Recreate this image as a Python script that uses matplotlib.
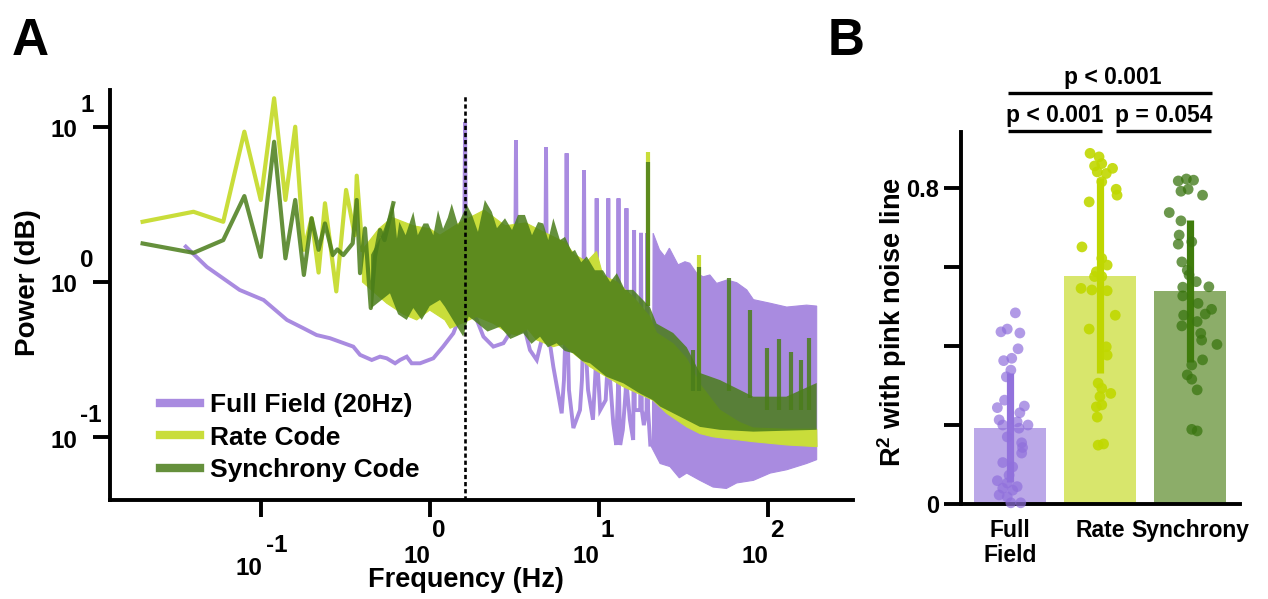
import numpy as np
import matplotlib
matplotlib.use("Agg")
import matplotlib.pyplot as plt
from matplotlib.lines import Line2D

plt.rcParams['font.family'] = ['Liberation Sans', 'DejaVu Sans']
plt.rcParams['font.weight'] = 'bold'
plt.rcParams['mathtext.fontset'] = 'custom'
plt.rcParams['mathtext.rm'] = 'Liberation Sans:bold'
plt.rcParams['mathtext.bf'] = 'Liberation Sans:bold'

# ---------------- Panel A data (frequency in Hz, power) ----------------
series_labels = ['Full Field (20Hz)', 'Rate Code', 'Synchrony Code']

# Full field: line part (low frequency + harmonic spikes)
ff_freq = [0.036, 0.048, 0.075, 0.104, 0.143, 0.179, 0.214, 0.257, 0.353, 0.387,
           0.454, 0.508, 0.557, 0.624, 0.667, 0.731, 0.782, 0.877, 1.05, 1.20,
           1.38, 1.48, 1.55, 1.60, 1.62, 1.64, 1.73, 1.90, 2.08, 2.38,
           2.73, 3.06, 3.15, 3.21, 3.24, 3.27, 3.33, 3.58, 3.92, 4.30,
           4.70, 4.83, 4.88, 4.93, 5.01, 5.39, 6.04, 6.23, 6.40, 6.46,
           6.52, 6.67, 7.08, 7.75, 7.96, 8.11, 8.19, 8.27, 8.65, 9.25,
           9.63, 9.73, 9.83, 10.2, 11.0, 11.3, 11.4, 11.5, 12.2, 12.7,
           13.0, 13.1, 13.2, 13.4, 13.9, 14.45, 14.6, 14.75, 15.3, 16.0,
           16.05, 16.2, 16.35, 17.1, 17.6, 17.8, 18.0, 18.5, 19.2, 19.4,
           19.6, 20.2]
ff_power = [1.69, 1.25, 0.889, 0.766, 0.570, 0.504, 0.456, 0.435, 0.384, 0.340,
            0.315, 0.331, 0.323, 0.300, 0.315, 0.331, 0.300, 0.300, 0.323, 0.384,
            0.468, 0.570, 1.03, 2.0, 10.7, 1.5, 0.693, 0.570, 0.445, 0.384,
            0.404, 0.491, 0.766, 1.5, 8.19, 1.2, 0.888, 0.542, 0.365, 0.315,
            0.468, 1.0, 7.35, 1.0, 0.491, 0.285, 0.143, 0.234, 0.6, 6.73,
            0.6, 0.202, 0.115, 0.150, 0.234, 0.5, 5.25, 0.5, 0.202, 0.130,
            0.3, 3.45, 0.3, 0.150, 0.174, 0.3, 3.45, 0.3, 0.123, 0.0895,
            0.2, 3.45, 0.2, 0.0895, 0.112, 0.2, 2.98, 0.2, 0.130, 0.0964,
            0.15, 2.16, 0.15, 0.150, 0.15, 2.07, 0.15, 0.12, 0.15, 2.06,
            0.15, 0.09]
# Full field: dense high-frequency band (upper / lower edges)
ff_band_up_freq = [20.2, 20.8, 21.0, 22.9, 24.6, 26.2, 29.5, 32.4, 34.6, 38.0, 41.5,
                   45.5, 49.9, 57.4, 65.6, 75.2, 82.4, 103.5, 129.6, 170, 195]
ff_band_up_power = [0.09, 0.09, 2.06, 1.61, 1.46, 1.65, 1.29, 1.35, 1.32, 1.14, 1.08,
                    1.11, 0.98, 1.03, 0.99, 0.89, 0.77, 0.73, 0.69, 0.71, 0.70]
ff_band_lo_freq = [20.2, 23.1, 26.4, 30.0, 33.2, 39.7, 47.5, 57.0, 65.6, 82.4,
                   103.5, 129.6, 170, 195]
ff_band_lo_power = [0.09, 0.068, 0.065, 0.055, 0.059, 0.053, 0.048, 0.047, 0.051, 0.053,
                    0.059, 0.062, 0.068, 0.072]

# Rate code
rate_freq = [0.02, 0.04, 0.06, 0.08, 0.10, 0.12, 0.14, 0.16, 0.18, 0.20, 0.22,
             0.24, 0.28, 0.32, 0.36, 0.37, 0.40]
rate_power = [2.44, 2.83, 2.44, 9.27, 3.37, 15.2, 3.37, 9.97, 1.61, 2.57, 1.15,
              3.21, 0.87, 3.91, 2.0, 4.83, 1.61]
rate_band_up_freq = [0.40, 0.5, 0.6, 0.8, 1.0, 1.15, 1.5, 2.1, 2.8, 3.7, 4.7, 6.3,
                     7.2, 8.5, 9.7, 10.6, 12.8, 16, 20, 22, 27.6, 33.2, 39.7, 52,
                     68, 82, 129, 195]
rate_band_up_power = [1.61, 2.2, 2.6, 2.3, 2.2, 2.0, 2.4, 2.9, 2.3, 2.4, 2.1, 1.8,
                      1.5, 1.35, 1.57, 1.1, 1.0, 0.8, 0.6, 0.47, 0.40, 0.32, 0.22, 0.15,
                      0.125, 0.115, 0.113, 0.113]
rate_band_lo_freq = [0.40, 0.557, 0.70, 0.838, 1.0, 1.23, 1.32, 1.9, 2.38, 2.9, 3.27,
                     3.8, 4.30, 5.39, 6.2, 7.08, 8.89, 11.1, 14.0, 20.9, 25.3, 33.2,
                     39.7, 47.5, 81.9, 130, 196]
rate_band_lo_power = [1.0, 0.730, 0.62, 0.570, 0.66, 0.570, 0.504, 0.60, 0.542, 0.47,
                      0.456, 0.50, 0.424, 0.384, 0.40, 0.348, 0.285, 0.246, 0.212, 0.174,
                      0.143, 0.117, 0.106, 0.101, 0.094, 0.0895, 0.0873]
rate_spike_freq = [19.5, 39.4]
rate_spike_top = [6.89, 1.49]
rate_spike_base = [0.7, 0.2]

# Synchrony code
sync_freq = [0.02, 0.04, 0.06, 0.08, 0.10, 0.12, 0.14, 0.16, 0.18, 0.20, 0.22, 0.24,
             0.267, 0.284, 0.308, 0.35, 0.37, 0.387, 0.414, 0.448, 0.474, 0.508,
             0.54, 0.609]
sync_power = [1.77, 1.54, 1.86, 3.57, 1.45, 7.98, 1.42, 3.37, 1.11, 2.57, 1.61, 2.38,
              1.49, 1.62, 1.49, 1.77, 3.37, 1.14, 2.21, 0.68, 1.45, 2.16,
              1.86, 3.21]
sync_band_up_freq = [0.45, 0.52, 0.609, 0.64, 0.661, 0.72, 0.80, 0.85, 0.92, 0.98,
                     1.05, 1.12, 1.20, 1.28, 1.35, 1.47, 1.66, 1.78, 1.93, 2.12,
                     2.33, 2.50, 2.79, 3.07, 3.33, 3.66, 4.03, 4.38, 4.70, 5.03,
                     5.39, 5.90, 6.32, 6.95, 7.24, 7.88, 8.49, 9.50, 10.6, 11.7,
                     12.8, 14.3, 16.0, 20.1, 22.0, 27.6, 33.2, 39.7, 52.2, 68.6,
                     82.2, 129, 195]
sync_band_up_power = [1.5, 2.0, 3.21, 1.9, 2.44, 2.0, 2.83, 2.0, 2.38, 2.38,
                      2.0, 2.9, 2.2, 2.6, 3.19, 2.33, 3.13, 2.7, 2.1, 3.37,
                      2.83, 2.22, 2.57, 2.16, 2.70, 2.70, 2.0, 2.43, 2.38, 1.86,
                      2.57, 1.86, 1.95, 1.56, 1.61, 1.34, 1.46, 1.19, 1.19, 1.0,
                      1.14, 0.89, 0.89, 0.69, 0.54, 0.47, 0.38, 0.26, 0.234, 0.202,
                      0.183, 0.183, 0.224]
sync_band_lo_freq = [0.45, 0.582, 0.65, 0.731, 0.80, 0.897, 1.0, 1.15, 1.23, 1.40,
                     1.58, 1.70, 1.81, 2.2, 2.61, 3.0, 3.58, 4.0, 4.50, 5.0,
                     5.64, 6.3, 7.08, 8.0, 8.89, 11.1, 14.0, 17.5, 20.9, 23.1,
                     30.3, 39.7, 52.2, 82.2, 195]
sync_band_lo_power = [0.678, 0.846, 0.62, 0.570, 0.68, 0.570, 0.70, 0.766, 0.693, 0.55,
                      0.445, 0.60, 0.570, 0.48, 0.516, 0.43, 0.468, 0.40, 0.445, 0.38,
                      0.404, 0.36, 0.348, 0.31, 0.300, 0.246, 0.223, 0.192, 0.174, 0.158,
                      0.136, 0.117, 0.112, 0.109, 0.112]
sync_spike_freq = [19.5, 36.3, 39.4, 59.3, 78.5, 98.7, 117, 137, 157, 176]
sync_spike_top = [5.94, 0.365, 1.25, 1.06, 0.66, 0.376, 0.43, 0.356, 0.315, 0.436]
sync_spike_base = [0.7, 0.2, 0.2, 0.2, 0.18, 0.15, 0.15, 0.15, 0.15, 0.15]

stim_freq = 1.62  # dashed reference line

x_tick_exps = [-1, 0, 1, 2]
y_tick_exps = [-1, 0, 1]

# ---------------- Panel B data ----------------
categories = ['Full\nField', 'Rate', 'Synchrony']
bar_means = [0.193, 0.578, 0.539]
bar_sd = [0.138, 0.247, 0.179]

ff_r2 = [0.484, 0.436, 0.443, 0.433, 0.393, 0.369, 0.363, 0.339, 0.322, 0.263,
         0.244, 0.248, 0.231, 0.213, 0.200, 0.208, 0.200, 0.192, 0.170, 0.155,
         0.143, 0.129, 0.105, 0.094, 0.073, 0.059, 0.053, 0.044, 0.035, 0.023,
         0.040, 0.003, 0.003, 0.018]
ff_jit = [0.06, -0.10, -0.03, 0.11, 0.09, 0.02, -0.07, 0.01, -0.04, -0.06,
          -0.14, 0.16, 0.11, -0.12, -0.08, 0.08, 0.20, 0.10, -0.03, 0.13,
          0.14, 0.13, -0.08, 0.03, -0.01, -0.14, -0.03, 0.08, 0.03, -0.12,
          -0.08, 0.01, 0.12, -0.03]
rate_r2 = [0.888, 0.879, 0.856, 0.862, 0.850, 0.837, 0.841, 0.816, 0.797, 0.782,
           0.765, 0.651, 0.622, 0.605, 0.588, 0.576, 0.576, 0.546, 0.542, 0.540,
           0.478, 0.443, 0.398, 0.377, 0.306, 0.293, 0.280, 0.272, 0.246, 0.251,
           0.220, 0.149, 0.152]
rate_jit = [-0.11, -0.01, -0.06, 0.02, 0.14, 0.07, -0.03, 0.02, 0.18, 0.19,
            -0.12, -0.20, 0.02, 0.08, -0.04, -0.06, 0.02, -0.21, -0.09, 0.08,
            0.17, -0.12, 0.07, 0.08, -0.02, 0.02, 0.12, 0.00, -0.04, 0.02,
            -0.03, -0.02, 0.04]
sync_r2 = [0.818, 0.823, 0.820, 0.792, 0.797, 0.782, 0.738, 0.717, 0.681, 0.658,
           0.664, 0.613, 0.592, 0.580, 0.563, 0.549, 0.550, 0.527, 0.508, 0.493,
           0.481, 0.478, 0.462, 0.451, 0.432, 0.415, 0.404, 0.365, 0.352, 0.327,
           0.316, 0.289, 0.189, 0.185]
sync_jit = [-0.13, -0.04, 0.04, -0.10, -0.02, 0.14, -0.23, -0.10, -0.12, -0.13,
            0.02, -0.09, -0.03, -0.01, 0.07, -0.08, 0.21, -0.08, 0.09, 0.24,
            0.17, -0.07, 0.08, -0.09, 0.12, 0.13, 0.30, 0.14, 0.02, -0.03,
            0.02, 0.08, 0.02, 0.08]

comparisons = [((-0.02, 2.24), 1.04, 'p < 0.001', 1.14),
               ((-0.02, 1.02), 0.944, 'p < 0.001', 0.50),
               ((1.18, 2.23), 0.944, 'p = 0.054', 1.71)]

# ---------------- styling ----------------
C_FF = '#a98be0'
C_RATE = '#c9dd3a'
C_SYNC = '#4a7d1a'
A_SYNC = 0.85

bar_colors = ['#bba8e8', '#d8e66c', '#8cad69']
err_colors = ['#9272dc', '#bfd600', '#3f7c0c']
pt_colors = ['#9070dc', '#c0d800', '#3a7510']
pt_alpha = [0.7, 0.9, 0.75]

fig = plt.figure(figsize=(12.68, 5.99), dpi=100)
W, H = 1268, 599

# ================= Panel A =================
axL, axR, axT, axB = 110, 853, 90, 499.5
ax = fig.add_axes([axL / W, 1 - axB / H, (axR - axL) / W, (axB - axT) / H])
ax.set_xscale('log')
ax.set_yscale('log')
ax.set_xlim(10 ** -1.892, 10 ** 2.505)
ax.set_ylim(10 ** -1.399, 10 ** 1.235)

# full field
ax.plot(ff_freq, ff_power, color=C_FF, lw=2.8, solid_joinstyle='miter', zorder=2)
ax.fill(ff_band_up_freq + ff_band_lo_freq[::-1],
        ff_band_up_power + ff_band_lo_power[::-1],
        color=C_FF, lw=0.8, zorder=2)
# rate
ax.plot(rate_freq, rate_power, color=C_RATE, lw=3, zorder=3)
ax.fill(rate_band_up_freq + rate_band_lo_freq[::-1],
        rate_band_up_power + rate_band_lo_power[::-1],
        color=C_RATE, lw=0.8, zorder=3)
ax.vlines(rate_spike_freq, rate_spike_base, rate_spike_top, color=C_RATE, lw=3, zorder=3)
# synchrony
ax.plot(sync_freq, sync_power, color=C_SYNC, alpha=A_SYNC, lw=3, zorder=4)
ax.fill(sync_band_up_freq + sync_band_lo_freq[::-1],
        sync_band_up_power + sync_band_lo_power[::-1],
        facecolor=C_SYNC, alpha=A_SYNC, lw=0, zorder=4)
ax.vlines(sync_spike_freq, sync_spike_base, sync_spike_top, color=C_SYNC,
          alpha=A_SYNC, lw=3, zorder=4)

ax.axvline(stim_freq, ymax=0.988, color='k', lw=1.9, ls=(0, (1.6, 1.1)), zorder=6)

for s in ['top', 'right']:
    ax.spines[s].set_visible(False)
for s in ['left', 'bottom']:
    ax.spines[s].set_linewidth(2.8)
ax.set_xticks([10.0 ** e for e in x_tick_exps])
ax.set_yticks([10.0 ** e for e in y_tick_exps])
ax.minorticks_off()
ax.set_xticklabels([])
ax.set_yticklabels([])
ax.tick_params(which='major', length=12, width=2.8, direction='out')

tfs = 17.5
for e in x_tick_exps:
    if e == -1:
        d10, dexp = (1.0, -54.4), (4.0, -37.8)
    else:
        d10, dexp = (0.5, -45.7), (1.5, -27.0)
    ax.annotate('10', xy=(10.0 ** e, 0), xycoords=('data', 'axes fraction'),
                xytext=d10, textcoords='offset points', ha='right', va='baseline',
                fontsize=tfs, fontweight='bold', annotation_clip=False)
    ax.annotate(str(e), xy=(10.0 ** e, 0), xycoords=('data', 'axes fraction'),
                xytext=dexp, textcoords='offset points', ha='left', va='baseline',
                fontsize=tfs, fontweight='bold', annotation_clip=False)
for e in y_tick_exps:
    ax.annotate('10', xy=(0, 10.0 ** e), xycoords=('axes fraction', 'data'),
                xytext=(-23.8, -7.5), textcoords='offset points', ha='right',
                va='baseline', fontsize=tfs, fontweight='bold', annotation_clip=False)
    ax.annotate(str(e), xy=(0, 10.0 ** e), xycoords=('axes fraction', 'data'),
                xytext=(-21.6, 10.8), textcoords='offset points', ha='left',
                va='baseline', fontsize=tfs, fontweight='bold', annotation_clip=False)

fig.text(466 / W, 1 - 580 / H, 'Frequency (Hz)', ha='center', va='center',
         fontsize=19.5, fontweight='bold')
fig.text(28 / W, 1 - 283 / H, 'Power (dB)', ha='center', va='center',
         rotation=90, fontsize=20, fontweight='bold')

handles = [Line2D([0], [0], color=C_FF, lw=6),
           Line2D([0], [0], color=C_RATE, lw=6),
           Line2D([0], [0], color=C_SYNC, alpha=A_SYNC, lw=6)]
ax.legend(handles, series_labels, loc='upper left',
          bbox_to_anchor=((160 - axL) / (axR - axL), (axB - 393) / (axB - axT)),
          frameon=False, prop={'size': 19, 'weight': 'bold'}, handlelength=1.5,
          handletextpad=0.4, labelspacing=0.33, borderpad=0, borderaxespad=0)

# ================= Panel B =================
bL, bR, bT, bB = 961, 1240, 132, 504
axb = fig.add_axes([bL / W, 1 - bB / H, (bR - bL) / W, (bB - bT) / H])
xpos = np.arange(len(categories))
axb.bar(xpos, bar_means, width=0.8, color=bar_colors, zorder=1)
groups = [(ff_r2, ff_jit), (rate_r2, rate_jit), (sync_r2, sync_jit)]
for i, (vals, jit) in enumerate(groups):
    axb.errorbar(xpos[i], bar_means[i], yerr=bar_sd[i], fmt='none',
                 ecolor=err_colors[i], elinewidth=5.2, capsize=0, zorder=2)
    axb.scatter(xpos[i] + np.array(jit), vals, s=60, color=pt_colors[i],
                alpha=pt_alpha[i], edgecolors='none', zorder=3, clip_on=False)
axb.set_xlim(-0.544, 2.556)
axb.set_ylim(0, 0.942)
for s in ['top', 'right']:
    axb.spines[s].set_visible(False)
for s in ['left', 'bottom']:
    axb.spines[s].set_linewidth(2.8)
axb.set_yticks([0, 0.2, 0.4, 0.6, 0.8])
axb.set_yticklabels(['0', '', '', '', '0.8'], fontsize=17, fontweight='bold')
axb.tick_params(axis='y', length=12, width=2.8, pad=4)
axb.set_xticks(xpos)
axb.set_xticklabels(categories, fontsize=16.5, fontweight='bold', linespacing=1.1)
axb.tick_params(axis='x', length=0, pad=11)

for (x1, x2), y, label, tx in comparisons:
    axb.plot([x1, x2], [y, y], color='k', lw=2.4, clip_on=False,
             solid_capstyle='butt')
    axb.text(tx, y + 0.04, label, ha='center', va='center', fontsize=16.5,
             fontweight='bold', clip_on=False)

fig.text(892 / W, 1 - 322 / H, r'R$^{\mathbf{2}}$ with pink noise line',
         ha='center', va='center', rotation=90, fontsize=19.5, fontweight='bold')

fig.text(12 / W, 1 - 55 / H, 'A', fontsize=37, fontweight='bold', va='baseline')
fig.text(828 / W, 1 - 55 / H, 'B', fontsize=37, fontweight='bold', va='baseline')

fig.savefig('out.png', dpi=100)
